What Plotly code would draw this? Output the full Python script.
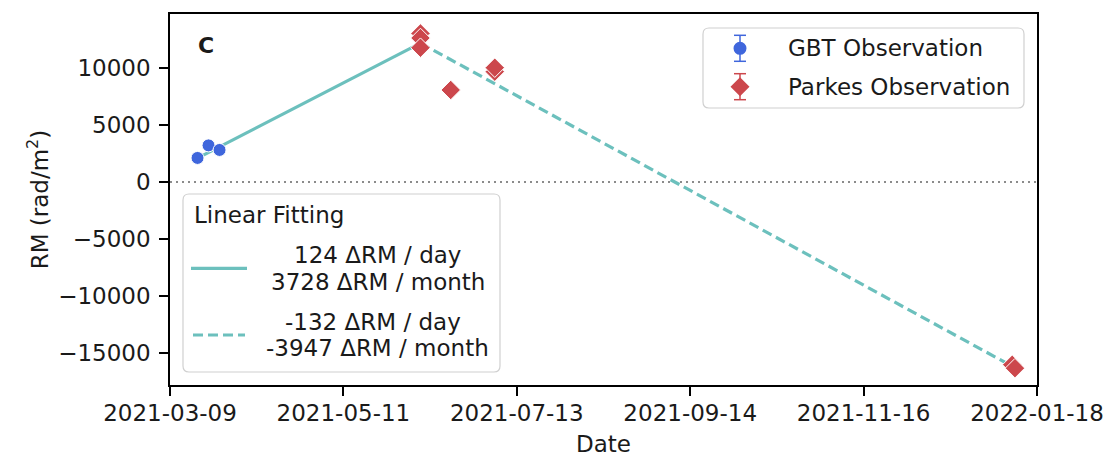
import datetime as _dt

import plotly.graph_objects as go

# --- observations -----------------------------------------------------------
gbt_dates = ["2021-03-19", "2021-03-23", "2021-03-27"]
gbt_rm = [2100, 3200, 2800]

parkes_dates = ["2021-06-08", "2021-06-08", "2021-06-08", "2021-06-19",
                "2021-07-05", "2021-07-05", "2022-01-09", "2022-01-10"]
parkes_rm = [13000, 12600, 11750, 8050, 9650, 10000, -16000, -16300]

# --- linear fits (slopes in RM per 30-day month) ----------------------------
rise_per_month = 3728
fall_per_month = -3947
fit_turn_date = "2021-06-08"
fit_turn_rm = 12150
fit_start_date = "2021-03-19"
fit_end_date = "2022-01-10"

# --- axes -------------------------------------------------------------------
x_ticks = ["2021-03-09", "2021-05-11", "2021-07-13", "2021-09-14",
           "2021-11-16", "2022-01-18"]
y_ticks = [-15000, -10000, -5000, 0, 5000, 10000]
y_range = [-17775, 14700]


def _days(a, b):
    return (_dt.date.fromisoformat(b) - _dt.date.fromisoformat(a)).days


rise_per_day = rise_per_month / 30
fall_per_day = fall_per_month / 30
rise_rm = [fit_turn_rm - rise_per_day * _days(fit_start_date, fit_turn_date), fit_turn_rm]
fall_rm = [fit_turn_rm, fit_turn_rm + fall_per_day * _days(fit_turn_date, fit_end_date)]

FONT = "DejaVu Sans, Liberation Sans, sans-serif"
FS = 23
INK = "#1a1a1a"
BLUE = "#3f66dc"
RED = "#cc474c"
TEAL = "#6cc0bd"

W, H = 1108, 460
L, R, T, B = 170, 1037, 14, 385


def px(x):
    return (x - L) / (R - L)


def py(y):
    return (B - y) / (B - T)


fig = go.Figure()

fig.add_trace(go.Scatter(x=[fit_start_date, fit_turn_date], y=rise_rm, mode="lines",
                         line=dict(color=TEAL, width=3.2), showlegend=False))
fig.add_trace(go.Scatter(x=[fit_turn_date, fit_end_date], y=fall_rm, mode="lines",
                         line=dict(color=TEAL, width=3.2, dash="10px,5px"), showlegend=False))
fig.add_trace(go.Scatter(x=gbt_dates, y=gbt_rm, mode="markers",
                         marker=dict(symbol="circle", size=13, color=BLUE,
                                     line=dict(color="white", width=1)),
                         showlegend=False))
fig.add_trace(go.Scatter(x=parkes_dates, y=parkes_rm, mode="markers",
                         marker=dict(symbol="diamond", size=15, color=RED,
                                     line=dict(color="white", width=1)),
                         showlegend=False))

shapes = []
annotations = []

# dotted zero reference
shapes.append(dict(type="line", xref="paper", yref="y", x0=0, x1=1, y0=0, y1=0,
                   line=dict(color="#666666", width=1.6, dash="2px,4px"), layer="below"))


def rounded_box(x0, y0, x1, y1, r=6):
    return (f"M {px(x0 + r)},{py(y0)} L {px(x1 - r)},{py(y0)} "
            f"Q {px(x1)},{py(y0)} {px(x1)},{py(y0 + r)} L {px(x1)},{py(y1 - r)} "
            f"Q {px(x1)},{py(y1)} {px(x1 - r)},{py(y1)} L {px(x0 + r)},{py(y1)} "
            f"Q {px(x0)},{py(y1)} {px(x0)},{py(y1 - r)} L {px(x0)},{py(y0 + r)} "
            f"Q {px(x0)},{py(y0)} {px(x0 + r)},{py(y0)} Z")


def text(x, y, s, xanchor="left", size=FS, bold=False):
    annotations.append(dict(xref="paper", yref="paper", x=px(x), y=py(y),
                            text=f"<b>{s}</b>" if bold else s, showarrow=False,
                            xanchor=xanchor, yanchor="middle",
                            font=dict(family=FONT, size=size, color=INK)))


def hline(x0, x1, y, color, width, dash=None):
    shapes.append(dict(type="line", xref="paper", yref="paper",
                       x0=px(x0), x1=px(x1), y0=py(y), y1=py(y),
                       line=dict(color=color, width=width, dash=dash), layer="above"))


def vline(x, y0, y1, color, width):
    shapes.append(dict(type="line", xref="paper", yref="paper",
                       x0=px(x), x1=px(x), y0=py(y0), y1=py(y1),
                       line=dict(color=color, width=width), layer="above"))


# legend: observations
shapes.append(dict(type="path", xref="paper", yref="paper",
                   path=rounded_box(703, 28, 1024, 108),
                   fillcolor="rgba(255,255,255,0.85)", line=dict(color="#d0d0d0", width=1.2),
                   layer="above"))
for cy, color in [(48.3, BLUE), (86.7, RED)]:
    vline(740, cy - 13, cy + 13, color, 1.5)
    hline(734, 746, cy - 13, color, 1.5)
    hline(734, 746, cy + 13, color, 1.5)
shapes.append(dict(type="circle", xref="paper", yref="paper",
                   x0=px(740 - 6.5), x1=px(740 + 6.5), y0=py(48.3 + 6.5), y1=py(48.3 - 6.5),
                   fillcolor=BLUE, line=dict(color=BLUE, width=0), layer="above"))
cx, cy, hw = 740, 86.7, 9.5
shapes.append(dict(type="path", xref="paper", yref="paper",
                   path=(f"M {px(cx)},{py(cy - hw)} L {px(cx + hw)},{py(cy)} "
                         f"L {px(cx)},{py(cy + hw)} L {px(cx - hw)},{py(cy)} Z"),
                   fillcolor=RED, line=dict(color=RED, width=0), layer="above"))
text(786, 48.3, "GBT Observation")
text(786, 86.7, "Parkes Observation")

# legend: linear fits
shapes.append(dict(type="path", xref="paper", yref="paper",
                   path=rounded_box(183, 194, 500, 372),
                   fillcolor="rgba(255,255,255,0.85)", line=dict(color="#d0d0d0", width=1.2),
                   layer="above"))
text(192, 215, "Linear Fitting")
hline(191, 247, 268.3, TEAL, 3.2)
hline(193, 245, 335, TEAL, 3.2, dash="10px,5px")
text(377, 255, f"{round(rise_per_day)} ΔRM / day", xanchor="center")
text(378, 281.7, f"{rise_per_month} ΔRM / month", xanchor="center")
text(373, 321.7, f"{round(fall_per_day)} ΔRM / day", xanchor="center")
text(377, 348.3, f"{fall_per_month} ΔRM / month", xanchor="center")

# panel label
text(196, 45, "C", size=22, bold=True)

fig.update_layout(
    width=W, height=H,
    margin=dict(l=L, r=W - R, t=T, b=H - B, autoexpand=False),
    paper_bgcolor="white", plot_bgcolor="white",
    font=dict(family=FONT, size=FS, color=INK),
    showlegend=False,
    shapes=shapes, annotations=annotations,
    xaxis=dict(type="date", range=[x_ticks[0], x_ticks[-1]],
               tickvals=x_ticks, ticktext=x_ticks,
               showgrid=False, zeroline=False,
               showline=True, linecolor="black", linewidth=1.6, mirror=True,
               ticks="outside", ticklen=9, tickwidth=1.5, tickcolor="black",
               ticklabelstandoff=-2,
               tickfont=dict(family=FONT, size=FS, color=INK),
               title=dict(text="Date", standoff=10,
                          font=dict(family=FONT, size=FS, color=INK))),
    yaxis=dict(range=y_range, tickvals=y_ticks, tickformat="d",
               showgrid=False, zeroline=False,
               showline=True, linecolor="black", linewidth=1.6, mirror=True,
               ticks="outside", ticklen=9, tickwidth=1.5, tickcolor="black",
               ticklabelstandoff=4,
               tickfont=dict(family=FONT, size=FS, color=INK),
               title=dict(text="RM (rad/m<sup>2</sup>)", standoff=3,
                          font=dict(family=FONT, size=FS, color=INK))),
)

fig.write_html("out.html")
